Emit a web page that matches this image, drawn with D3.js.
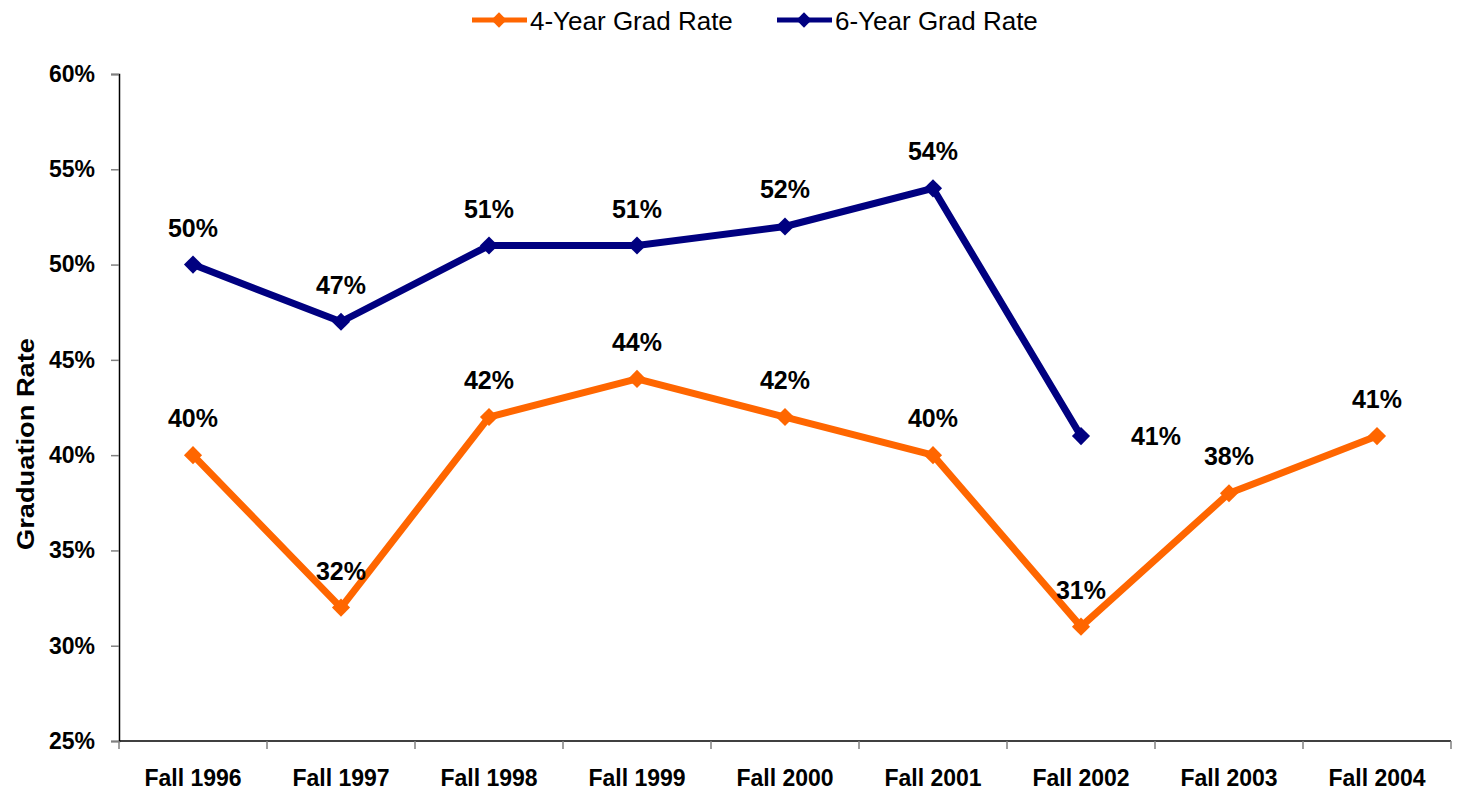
<!DOCTYPE html>
<html>
<head>
<meta charset="utf-8">
<script src="https://cdn.jsdelivr.net/npm/d3@7"></script>
<style>
  body { margin: 0; background: #fff; }
  svg { display: block; font-family: "Liberation Sans", Arial, sans-serif; }
</style>
</head>
<body>
<svg id="chart" width="1459" height="796"></svg>
<script>
// chart data
const terms = ['Fall 1996', 'Fall 1997', 'Fall 1998', 'Fall 1999', 'Fall 2000',
  'Fall 2001', 'Fall 2002', 'Fall 2003', 'Fall 2004'];
const fourYear = [40, 32, 42, 44, 42, 40, 31, 38, 41];
const sixYear = [50, 47, 51, 51, 52, 54, 41, null, null];
const yTicks = [25, 30, 35, 40, 45, 50, 55, 60];

const series = [
  { name: '4-Year Grad Rate', values: fourYear, color: '#FF6600' },
  { name: '6-Year Grad Rate', values: sixYear, color: '#000080' },
];

const svg = d3.select('#chart');
const m = { left: 119, right: 1451, top: 74, bottom: 741 };

const x = d3.scaleBand().domain(terms).range([m.left, m.right]);
const cx = d => x(d) + x.bandwidth() / 2;
const y = d3.scaleLinear().domain([25, 60]).range([m.bottom, m.top]);

// y axis
const yAxis = svg.append('g')
  .attr('transform', `translate(${m.left},0)`)
  .call(d3.axisLeft(y).tickValues(yTicks).tickFormat(d => `${d}%`)
    .tickSize(8).tickPadding(16));
yAxis.select('.domain').attr('stroke', '#000').attr('stroke-width', 1.5);
yAxis.selectAll('.tick line').attr('stroke', '#808080').attr('stroke-width', 1.5);
yAxis.selectAll('.tick text')
  .attr('font-size', 23).attr('font-weight', 'bold').attr('fill', '#000')
  .attr('font-family', '"Liberation Sans", Arial, sans-serif');

// x axis: ticks sit on the band edges
const xAxis = svg.append('g')
  .attr('transform', `translate(0,${m.bottom})`);
xAxis.append('line')
  .attr('x1', m.left).attr('x2', m.right)
  .attr('stroke', '#000').attr('stroke-width', 1.5);
const edges = terms.map(t => x(t)).concat([m.right]);
xAxis.selectAll('.edge').data(edges).enter()
  .append('line')
  .attr('class', 'edge')
  .attr('x1', d => d).attr('x2', d => d)
  .attr('y1', 0).attr('y2', 8)
  .attr('stroke', '#808080').attr('stroke-width', 1.5);
xAxis.selectAll('.lbl').data(terms).enter()
  .append('text')
  .attr('class', 'lbl')
  .attr('x', cx)
  .attr('y', 45)
  .attr('text-anchor', 'middle')
  .attr('font-size', 23).attr('font-weight', 'bold')
  .text(d => d);

// axis title
svg.append('text')
  .attr('transform', 'translate(34,444) rotate(-90)')
  .attr('text-anchor', 'middle')
  .attr('font-size', 24).attr('font-weight', 'bold')
  .attr('textLength', 212).attr('lengthAdjust', 'spacingAndGlyphs')
  .text('Graduation Rate');

// lines and markers
const line = d3.line()
  .defined(d => d.v !== null)
  .x(d => cx(d.t))
  .y(d => y(d.v));
const diamond = d3.symbol().type(d3.symbolDiamond2).size(210);

series.forEach((s) => {
  const pts = terms.map((t, i) => ({ t, v: s.values[i] }));
  svg.append('path')
    .datum(pts)
    .attr('d', line)
    .attr('fill', 'none')
    .attr('stroke', s.color)
    .attr('stroke-width', 7)
    .attr('stroke-linejoin', 'miter');
  svg.selectAll(null).data(pts.filter(d => d.v !== null)).enter()
    .append('path')
    .attr('d', diamond)
    .attr('transform', d => `translate(${cx(d.t)},${y(d.v)})`)
    .attr('fill', s.color);
});

// data labels
const labelFor = (s, d, i) => {
  // last 6-year point's label sits off to the right in the original
  if (s === sixYear && i === 6) return { x: cx(d.t) + 75, y: y(d.v) + 9 };
  return { x: cx(d.t), y: y(d.v) - 28 };
};
[fourYear, sixYear].forEach((vals) => {
  const pts = terms.map((t, i) => ({ t, v: vals[i], i })).filter(d => d.v !== null);
  svg.selectAll(null).data(pts).enter()
    .append('text')
    .attr('x', d => labelFor(vals, d, d.i).x)
    .attr('y', d => labelFor(vals, d, d.i).y)
    .attr('text-anchor', 'middle')
    .attr('font-size', 25).attr('font-weight', 'bold')
    .text(d => `${d.v}%`);
});

// legend
const legend = svg.append('g').attr('transform', 'translate(472,20)');
const legX = [0, 305];
series.forEach((s, i) => {
  const g = legend.append('g').attr('transform', `translate(${legX[i]},0)`);
  g.append('line').attr('x1', 0).attr('x2', 55)
    .attr('stroke', s.color).attr('stroke-width', 5);
  g.append('path').attr('d', d3.symbol().type(d3.symbolDiamond2).size(150))
    .attr('transform', 'translate(27,0)').attr('fill', s.color);
  g.append('text').attr('x', 58).attr('y', 10)
    .attr('font-size', 26)
    .text(s.name);
});
</script>
</body>
</html>
